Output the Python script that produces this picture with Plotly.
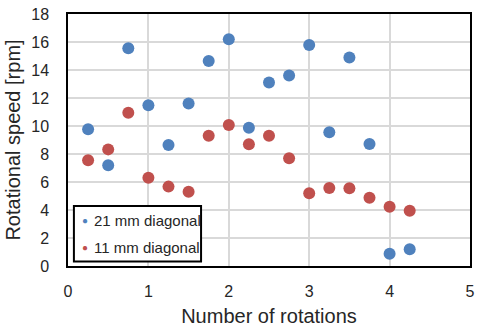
import plotly.graph_objects as go

rotations = [0.25, 0.5, 0.75, 1.0, 1.25, 1.5, 1.75, 2.0, 2.25, 2.5, 2.75, 3.0, 3.25, 3.5, 3.75, 4.0, 4.25]
speed_21mm = [9.76, 7.19, 15.55, 11.48, 8.64, 11.6, 14.64, 16.2, 9.88, 13.1, 13.6, 15.79, 9.55, 14.9, 8.71, 0.88, 1.19]
speed_11mm = [7.55, 8.33, 10.95, 6.31, 5.67, 5.31, 9.31, 10.07, 8.69, 9.31, 7.69, 5.19, 5.57, 5.55, 4.88, 4.24, 3.95]
series_names = ["21 mm diagonal", "11 mm diagonal"]
x_ticks = [0, 1, 2, 3, 4, 5]
y_ticks = [0, 2, 4, 6, 8, 10, 12, 14, 16, 18]

BLUE = "#4F81BD"
RED = "#C0504D"
FONT = "Liberation Sans, Arial, sans-serif"
TXT = "#262626"

fig = go.Figure()
fig.add_trace(go.Scatter(x=rotations, y=speed_21mm, mode="markers", name=series_names[0],
                         marker=dict(color=BLUE, size=12, line=dict(width=0))))
fig.add_trace(go.Scatter(x=rotations, y=speed_11mm, mode="markers", name=series_names[1],
                         marker=dict(color=RED, size=12, line=dict(width=0))))

# manual legend (box, dots, labels) to mimic the original's compact layout
fig.add_shape(type="rect", xref="paper", yref="paper", x0=0.0147, x1=0.331, y0=0.018, y1=0.238,
              line=dict(color="black", width=2), fillcolor="white", layer="above")
for name, color, yy in [(series_names[0], BLUE, 0.18), (series_names[1], RED, 0.073)]:
    fig.add_annotation(xref="paper", yref="paper", x=0.0425, y=yy, text="●", showarrow=False,
                       xanchor="center", yanchor="middle", font=dict(size=10, color=color, family=FONT))
    fig.add_annotation(xref="paper", yref="paper", x=0.059, y=yy, text=name, showarrow=False,
                       xanchor="left", yanchor="middle", font=dict(size=15, color=TXT, family=FONT))

fig.update_layout(
    width=477, height=327,
    margin=dict(l=68, r=2, t=14, b=61),
    paper_bgcolor="white", plot_bgcolor="white",
    font=dict(family=FONT, color=TXT),
    showlegend=False,
    xaxis=dict(range=[0, 5], tickvals=x_ticks, showgrid=True, gridcolor="#D9D9D9", gridwidth=1.5,
               zeroline=False, showline=True, linecolor="black", linewidth=1.5, mirror=True,
               ticks="", ticklabelstandoff=10, ticklabeloverflow="allow",
               tickfont=dict(size=16, color=TXT),
               title=dict(text="Number of rotations", font=dict(size=20, color=TXT), standoff=10)),
    yaxis=dict(range=[0, 18], tickvals=y_ticks, showgrid=True, gridcolor="#D9D9D9", gridwidth=1.5,
               zeroline=False, showline=True, linecolor="black", linewidth=1.5, mirror=True,
               ticks="", ticklabelstandoff=14, ticklabeloverflow="allow",
               tickfont=dict(size=16, color=TXT),
               title=dict(text="Rotational speed [rpm]", font=dict(size=20, color=TXT), standoff=5)),
)

fig.write_html("out.html", config={"displayModeBar": False},
               post_script="document.body.style.margin='0';document.body.style.padding='0';")
